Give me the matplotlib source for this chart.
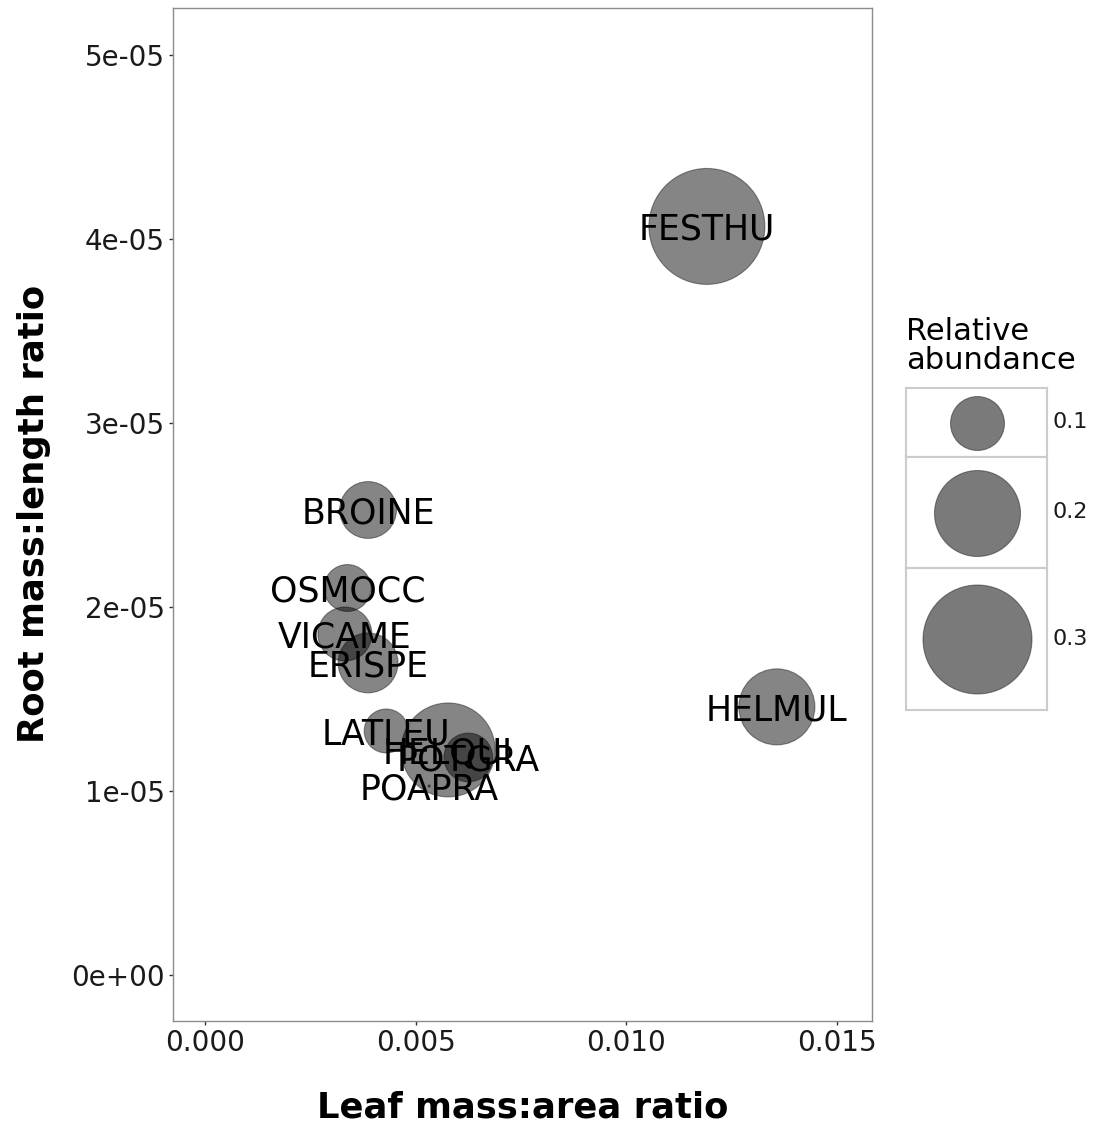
import numpy as np
import matplotlib.pyplot as plt

# ----- data -----
species = ["FESTHU", "HELMUL", "BROINE", "OSMOCC", "VICAME",
           "ERISPE", "LATLEU", "HELQUI", "POTGRA", "POAPRA"]
leaf_mass_area = [0.01191, 0.01357, 0.00387, 0.00338, 0.00332,
                  0.00387, 0.00430, 0.00577, 0.00625, 0.00532]
root_mass_length = [4.068e-05, 1.457e-05, 2.527e-05, 2.103e-05, 1.853e-05,
                    1.696e-05, 1.326e-05, 1.223e-05, 1.182e-05, 1.027e-05]
rel_abundance = [0.335, 0.164, 0.107, 0.084, 0.100,
                 0.115, 0.078, 0.232, 0.088, 0.035]

x_ticks = [0.000, 0.005, 0.010, 0.015]
x_ticklabels = ["0.000", "0.005", "0.010", "0.015"]
y_ticks = [0, 1e-05, 2e-05, 3e-05, 4e-05, 5e-05]
y_ticklabels = ["0e+00", "1e-05", "2e-05", "3e-05", "4e-05", "5e-05"]

legend_values = [0.1, 0.2, 0.3]
legend_labels = ["0.1", "0.2", "0.3"]

W, H, DPI = 1098, 1126, 100
plt.rcParams['font.family'] = ['DejaVu Sans']


def size_scale(v):
    # area scale (like ggplot scale_size): radius^2 linear in value, in px
    v = np.asarray(v, dtype=float)
    r2 = np.clip(-391 + 11205 * v, 1, None)
    diam_pt = 2 * np.sqrt(r2) * 72 / DPI
    return diam_pt ** 2


def px_axes(fig, left, top, right, bottom):
    return fig.add_axes([left / W, 1 - bottom / H, (right - left) / W, (bottom - top) / H])


fig = plt.figure(figsize=(W / DPI, H / DPI), dpi=DPI)

# ===========================================
#   main panel
# ===========================================
ax = px_axes(fig, 173, 8, 872, 1020.7)
ax.scatter(leaf_mass_area, root_mass_length, s=size_scale(rel_abundance),
           facecolor=(0, 0, 0, 0.48), edgecolor=(0, 0, 0, 0.4), linewidth=0.8,
           zorder=2)
for name, x, y in zip(species, leaf_mass_area, root_mass_length):
    ax.text(x, y, name, ha='center', va='center_baseline', fontsize=25,
            color='black', zorder=3)

ax.set_xlim(-0.000759, 0.015828)
ax.set_ylim(-2.484e-06, 5.255e-05)
ax.set_xticks(x_ticks)
ax.set_xticklabels(x_ticklabels)
ax.set_yticks(y_ticks)
ax.set_yticklabels(y_ticklabels)
ax.tick_params(axis='both', direction='out', length=3, width=1, color='#333333',
               labelsize=20, labelcolor='#1a1a1a', pad=3)
for sp in ax.spines.values():
    sp.set_color('#8c8c8c')
    sp.set_linewidth(1)

fig.text(522.5 / W, 1 - 1117 / H, "Leaf mass:area ratio", ha='center', va='baseline',
         fontsize=25.5, fontweight='bold')
fig.text(34 / W, 1 - 514 / H, "Root mass:length ratio", ha='center', va='center',
         rotation=90, fontsize=25.5, fontweight='bold')

# ===========================================
#   size legend
# ===========================================
fig.text(906 / W, 1 - 317 / H, "Relative\nabundance", ha='left', va='top',
         fontsize=22, linespacing=1.02)
key_edges = [388, 457, 568, 710]
for i, (v, lab) in enumerate(zip(legend_values, legend_labels)):
    kax = px_axes(fig, 906, key_edges[i], 1047, key_edges[i + 1])
    kax.set_xlim(0, 1)
    kax.set_ylim(0, 1)
    kax.set_xticks([])
    kax.set_yticks([])
    for sp in kax.spines.values():
        sp.set_color('#cccccc')
        sp.set_linewidth(1.5)
    kax.scatter([0.5], [0.5], s=size_scale([v]), facecolor=(0, 0, 0, 0.52),
                edgecolor=(0, 0, 0, 0.4), linewidth=0.8)
    fig.text(1052 / W, 1 - (key_edges[i] + key_edges[i + 1]) / 2 / H, lab,
             ha='left', va='center', fontsize=16, color='#1a1a1a')

fig.savefig("out.png", dpi=DPI)
